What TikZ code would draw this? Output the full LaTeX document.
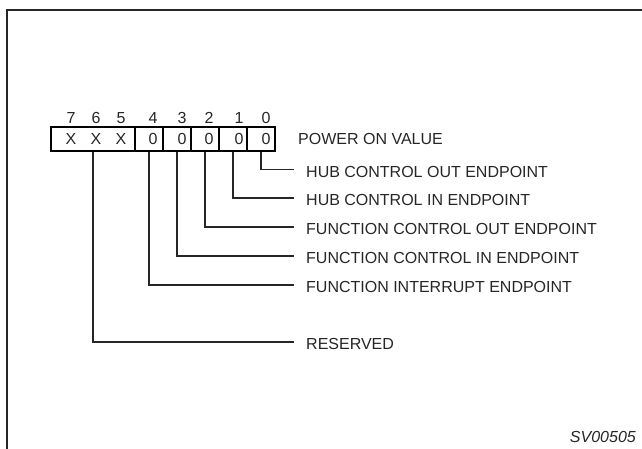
\documentclass[tikz,border=0pt]{standalone}
\usepackage{fontspec}
\setmainfont{Liberation Sans}
\usetikzlibrary{positioning}

\tikzset{
    frame/.style={line width=2.5pt, black!85},
    cell/.style={draw, line width=2pt, minimum width=28pt, minimum height=24pt, inner sep=0pt},
    bitnum/.style={inner sep=0pt, text=black!85},
    bitval/.style={inner sep=0pt, text=black!85},
    lbl/.style={anchor=west, inner xsep=12pt, inner ysep=0pt, text height=15.5pt, text depth=0pt, text=black!85},
    lead/.style={line width=1.2pt, black!85},
}

\begin{document}
\begin{tikzpicture}[x=1pt, y=-1pt, font=\fontsize{16}{19}\selectfont]
    % Boundaries
    \useasboundingbox (0,0) rectangle (642,449);
    \draw[frame] (7,449) -- (7,10) -- (642,10);
    %
    % Register
    \node[cell, minimum width=84pt] (c765) at (93,139) {};
    \foreach \b/\x in {4/149, 3/177, 2/205, 1/233, 0/261}
        \node[cell] (c\b) at (\x,139) {};
    \foreach \b/\x/\v in {7/71/X, 6/96/X, 5/121/X, 4/153/0, 3/182/0, 2/209/0, 1/239/0, 0/266/0} {
        \node[bitnum] (n\b) at (\x,118) {\b};
        \node[bitval] (v\b) at (\x,139) {\v};
    }
    \node[anchor=west, inner sep=0pt, text=black!85] (pov) at (298,139) {POWER ON VALUE};
    %
    % Bit descriptions
    \foreach \b/\y/\t in {0/169.5/HUB CONTROL OUT ENDPOINT, 1/198/HUB CONTROL IN ENDPOINT,
                          2/227/FUNCTION CONTROL OUT ENDPOINT, 3/256/FUNCTION CONTROL IN ENDPOINT,
                          4/285/FUNCTION INTERRUPT ENDPOINT} {
        \node[lbl] (l\b) at (294,\y) {\t};
        \draw[lead] (c\b.south) |- (l\b.west);
    }
    \node[lbl] (lres) at (294,342) {RESERVED};
    \draw[lead] (c765.south) |- (lres.west);
    %
    \node[anchor=east, inner sep=0pt, text=black!85, font=\fontsize{16}{19}\selectfont\itshape] (fig) at (636,437) {SV00505};
\end{tikzpicture}
\end{document}
